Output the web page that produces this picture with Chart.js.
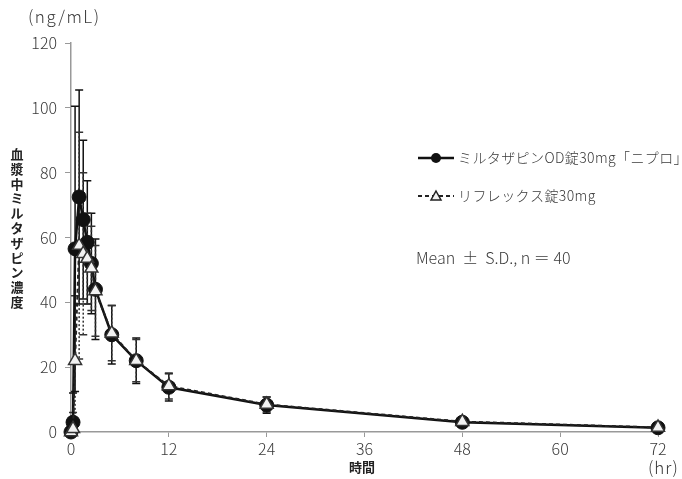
<!DOCTYPE html>
<html lang="ja">
<head>
<meta charset="UTF-8">
<title>血漿中ミルタザピン濃度</title>
<script src="https://cdn.jsdelivr.net/npm/chart.js"></script>
<style>
  body { margin: 0; background: #fff; }
  .box { position: relative; width: 682px; height: 479px; }
</style>
</head>
<body>
<div class="box"><canvas id="grafico"></canvas></div>
<script>
  // sampling times (hr) and concentrations (ng/mL)
  const horas = [0, 0.25, 0.5, 1, 1.5, 2, 2.5, 3, 5, 8, 12, 24, 48, 72];
  const niproMedia = [0, 3, 56.5, 72.5, 65.5, 58.5, 52, 44, 30, 22, 13.8, 8.3, 3.0, 1.3];
  const niproDP = [0, 9, 44, 33, 24.5, 19, 15.5, 15.5, 9, 7, 4.2, 2.5, 1.0, 0.5];
  const reflexMedia = [0, 1, 22, 57.5, 55, 53.5, 50.5, 43.5, 30.5, 22, 14.2, 8.5, 3.2, 1.4];
  const reflexDP = [0, 5, 20, 35, 25, 14, 13, 14, 8.5, 6.5, 4, 2.3, 0.9, 0.5];
  const ticksX = [0, 12, 24, 36, 48, 60, 72];
  const ticksY = [0, 20, 40, 60, 80, 100, 120];

  const nomeNipro = 'ミルタザピンOD錠30mg「ニプロ」';
  const nomeReflex = 'リフレックス錠30mg';

  const fonte = '"Noto Sans CJK JP", "Noto Sans", sans-serif';

  function pares(xs, ys) {
    return xs.map(function (x, i) { return { x: x, y: ys[i] }; });
  }

  // error bars (mean ± SD) drawn with the chart's scales
  const barrasErro = {
    id: 'barrasErro',
    beforeDatasetsDraw(chart) {
      const ctx = chart.ctx;
      const sx = chart.scales.x, sy = chart.scales.y;
      function desenhar(medias, dps, cor, tracejado) {
        ctx.save();
        ctx.strokeStyle = cor;
        ctx.lineWidth = 1.5;
        for (let i = 0; i < horas.length; i++) {
          if (!dps[i]) continue;
          const px = sx.getPixelForValue(horas[i]);
          const topo = sy.getPixelForValue(medias[i] + dps[i]);
          const base = sy.getPixelForValue(Math.max(0, medias[i] - dps[i]));
          ctx.setLineDash(tracejado ? [2, 2] : []);
          ctx.beginPath();
          ctx.moveTo(px, topo); ctx.lineTo(px, base);
          ctx.stroke();
          ctx.setLineDash([]);
          ctx.beginPath();
          ctx.moveTo(px - 4, topo); ctx.lineTo(px + 4, topo);
          ctx.moveTo(px - 4, base); ctx.lineTo(px + 4, base);
          ctx.stroke();
        }
        ctx.restore();
      }
      desenhar(niproMedia, niproDP, '#111', false);
      desenhar(reflexMedia, reflexDP, '#333', true);
    }
  };

  // legend, note and axis titles
  const textos = {
    id: 'textos',
    afterDraw(chart) {
      const ctx = chart.ctx;
      ctx.save();
      ctx.fillStyle = '#3a3a3a';
      ctx.textBaseline = 'middle';
      ctx.textAlign = 'left';

      ctx.font = '300 17px ' + fonte;
      ctx.letterSpacing = '1.5px';
      ctx.fillText('(ng/mL)', 28, 17);
      ctx.letterSpacing = '1px';
      ctx.fillText('(hr)', 648, 468);
      ctx.font = '300 16px ' + fonte;
      ctx.letterSpacing = '0px';
      ctx.fillText('Mean  ±  S.D., n ＝ 40', 416, 258);

      // legend
      ctx.strokeStyle = '#111';
      ctx.lineWidth = 2.5;
      ctx.beginPath(); ctx.moveTo(418, 158); ctx.lineTo(454, 158); ctx.stroke();
      ctx.fillStyle = '#111';
      ctx.beginPath(); ctx.arc(436, 158, 5, 0, Math.PI * 2); ctx.fill();

      ctx.strokeStyle = '#222';
      ctx.lineWidth = 2;
      ctx.setLineDash([4, 3]);
      ctx.beginPath(); ctx.moveTo(418, 196); ctx.lineTo(454, 196); ctx.stroke();
      ctx.setLineDash([]);
      ctx.fillStyle = '#f2f2f2';
      ctx.lineWidth = 1.5;
      ctx.beginPath();
      ctx.moveTo(436, 191); ctx.lineTo(441, 200); ctx.lineTo(431, 200); ctx.closePath();
      ctx.fill(); ctx.stroke();

      ctx.fillStyle = '#3a3a3a';
      ctx.font = '300 14px ' + fonte;
      ctx.letterSpacing = '0.4px';
      ctx.fillText(nomeNipro, 458, 158);
      ctx.fillText(nomeReflex, 458, 196);
      ctx.letterSpacing = '0px';

      // axis titles
      ctx.fillStyle = '#222';
      ctx.font = 'bold 13px ' + fonte;
      ctx.textAlign = 'center';
      ctx.fillText('時間', 362, 467);
      const titulo = '血漿中ミルタザピン濃度';
      for (let i = 0; i < titulo.length; i++) {
        ctx.fillText(titulo[i], 17, 154 + i * 14.8);
      }
      ctx.restore();
    }
  };

  new Chart(document.getElementById('grafico'), {
    type: 'line',
    data: {
      datasets: [{
        label: nomeNipro,
        data: pares(horas, niproMedia),
        borderColor: '#111',
        borderWidth: 2.5,
        pointStyle: 'circle',
        pointRadius: 7,
        pointBackgroundColor: '#111',
        pointBorderColor: '#111',
        pointBorderWidth: 1,
        tension: 0,
        clip: false,
        order: 1
      }, {
        label: nomeReflex,
        data: pares(horas, reflexMedia),
        borderColor: '#222',
        borderWidth: 2,
        borderDash: [4, 3],
        pointStyle: 'triangle',
        pointRadius: 7.5,
        pointBackgroundColor: '#f2f2f2',
        pointBorderColor: '#333',
        pointBorderWidth: 1.5,
        tension: 0,
        clip: false,
        order: 0
      }]
    },
    options: {
      responsive: true,
      maintainAspectRatio: false,
      animation: false,
      layout: { padding: { top: 43, right: 24, left: 0, bottom: 0 } },
      plugins: {
        legend: { display: false },
        tooltip: { enabled: false }
      },
      scales: {
        x: {
          type: 'linear',
          min: 0,
          max: 72,
          afterFit(escala) { escala.height = 47; },
          afterBuildTicks(escala) { escala.ticks = ticksX.map(function (v) { return { value: v }; }); },
          grid: { drawOnChartArea: false, drawTicks: true, tickLength: 5, color: '#999', lineWidth: 1 },
          border: { color: '#999', width: 1.5 },
          ticks: { color: '#3a3a3a', font: { family: fonte, size: 16, weight: 300 }, padding: 2, maxRotation: 0 }
        },
        y: {
          min: 0,
          max: 120,
          afterFit(escala) { escala.width = 71; },
          afterBuildTicks(escala) { escala.ticks = ticksY.map(function (v) { return { value: v }; }); },
          grid: { drawOnChartArea: false, drawTicks: true, tickLength: 6, color: '#999', lineWidth: 1 },
          border: { color: '#999', width: 1.5 },
          ticks: { color: '#3a3a3a', font: { family: fonte, size: 16, weight: 300 }, padding: 8 }
        }
      }
    },
    plugins: [barrasErro, textos]
  });
</script>
</body>
</html>
